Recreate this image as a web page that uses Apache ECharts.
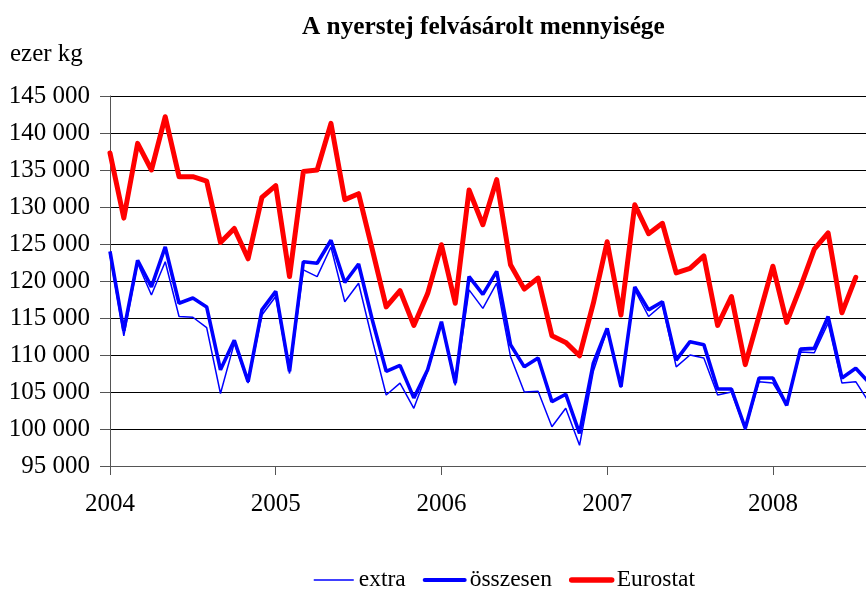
<!DOCTYPE html>
<html>
<head>
<meta charset="utf-8">
<script src="https://cdn.jsdelivr.net/npm/echarts@6/dist/echarts.min.js"></script>
<style>
  html, body { margin: 0; padding: 0; background: #fff; }
  #main { width: 866px; height: 591px; }
</style>
</head>
<body>
<div id="main"></div>
<script type="text/javascript">
// havi adatok 2004 januártól (ezer kg)
var years = ['2004', '2005', '2006', '2007', '2008'];
var extra = [123500, 112600, 122400, 118100, 122600, 115200, 115100, 113700, 104800, 111600, 106200, 115400,
             117900, 107500, 121500, 120600, 124600, 117200, 119700, 112000, 104600, 106200, 102800, 107800,
             114300, 105900, 118800, 116300, 119700, 109800, 105000, 105100, 100300, 102800, 97800, 107800,
             113400, 105600, 118800, 115200, 116800, 108400, 110000, 109600, 104600, 105000, 99900, 106400,
             106200, 103200, 110400, 110300, 114300, 106200, 106400, 103500];
var osszesen = [124000, 113300, 122800, 119200, 124600, 117000, 117700, 116500, 108000, 112000, 106400, 116100,
                118600, 107800, 122600, 122400, 125500, 119800, 122300, 114700, 107800, 108600, 104200, 108000,
                114500, 106200, 120600, 118200, 121300, 111400, 108400, 109600, 103700, 104700, 99400, 108900,
                113600, 105700, 119200, 116100, 117200, 109300, 111800, 111400, 105400, 105400, 100100, 106900,
                106900, 103200, 110800, 110900, 115200, 106900, 108200, 106200];
var eurostat = [137300, 128500, 138600, 135000, 142200, 134100, 134100, 133500, 125200, 127100, 123000, 131300,
                132900, 120600, 134800, 135000, 141300, 131000, 131800, 124200, 116500, 118700, 114000, 118300,
                124900, 117000, 132300, 127600, 133700, 122200, 118900, 120400, 112600, 111700, 109900, 117000,
                125300, 115400, 130300, 126400, 127800, 121100, 121700, 123400, 114000, 117900, 108700, 115300,
                122000, 114400, 119200, 124300, 126500, 115700, 120500];

function pairs(arr) {
    return arr.map(function (v, i) { return [i, v]; });
}
var yearTicks = years.map(function (y, i) { return i * 12; });

var font = 'Liberation Serif, Times New Roman, serif';
var myChart = echarts.init(document.getElementById('main'));
var option = {
    animation: false,
    title: [{
        text: 'A nyerstej felvásárolt mennyisége',
        left: 302,
        top: 15,
        padding: 0,
        textStyle: { fontFamily: font, fontSize: 25.3, fontWeight: 'bold', color: '#000' }
    }, {
        text: 'ezer kg',
        left: 10,
        top: 42,
        padding: 0,
        textStyle: { fontFamily: font, fontSize: 25, fontWeight: 'normal', color: '#000' }
    }],
    grid: { left: 110, top: 96, right: 0, bottom: 125 },
    legend: {
        left: 313,
        top: 568,
        padding: 0,
        itemWidth: 40,
        itemHeight: 14,
        itemGap: 17,
        itemStyle: { opacity: 0 },
        textStyle: { fontFamily: font, fontSize: 23.5, color: '#000' },
        data: [
            { name: 'extra', lineStyle: { width: 1.5 } },
            { name: 'összesen', lineStyle: { width: 4, cap: 'round' } },
            { name: 'Eurostat', lineStyle: { width: 5.5, cap: 'round' } }
        ]
    },
    xAxis: {
        type: 'value',
        min: 0,
        max: (866 - 110) / 13.81,
        axisLine: { lineStyle: { color: '#555', width: 1 } },
        axisTick: { show: true, length: 9, customValues: yearTicks, lineStyle: { color: '#555' } },
        axisLabel: {
            customValues: yearTicks,
            margin: 26,
            fontFamily: font, fontSize: 25, color: '#000',
            formatter: function (v) { return years[Math.round(v / 12)]; }
        },
        splitLine: { show: false }
    },
    yAxis: {
        type: 'value',
        min: 95000,
        max: 145000,
        interval: 5000,
        axisLine: { show: true, lineStyle: { color: '#555', width: 1 } },
        axisTick: { show: true, length: 10, lineStyle: { color: '#555' } },
        axisLabel: {
            margin: 20,
            fontFamily: font, fontSize: 25, color: '#000',
            formatter: function (v) { return String(v).replace(/\B(?=(\d{3})+(?!\d))/g, ' '); }
        },
        splitLine: { show: true, lineStyle: { color: '#000', width: 1 } }
    },
    series: [{
        name: 'extra',
        type: 'line',
        symbol: 'none',
        data: pairs(extra),
        lineStyle: { color: '#0000ff', width: 1.5 },
        itemStyle: { color: '#0000ff' }
    }, {
        name: 'összesen',
        type: 'line',
        symbol: 'none',
        data: pairs(osszesen),
        lineStyle: { color: '#0000ff', width: 3.6 },
        itemStyle: { color: '#0000ff' }
    }, {
        name: 'Eurostat',
        type: 'line',
        symbol: 'none',
        data: pairs(eurostat),
        lineStyle: { color: '#ff0000', width: 5, cap: 'round', join: 'round' },
        itemStyle: { color: '#ff0000' }
    }]
};
myChart.setOption(option);
</script>
</body>
</html>
